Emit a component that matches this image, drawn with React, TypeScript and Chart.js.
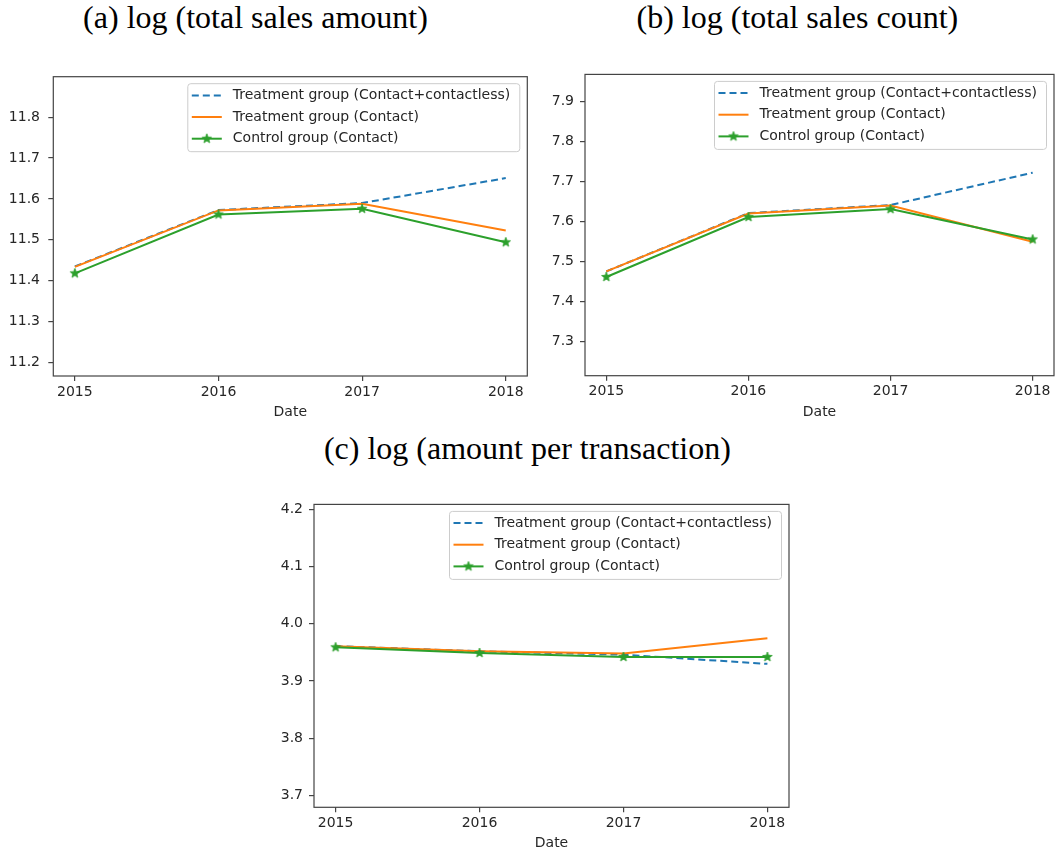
import React, { useEffect, useRef } from "react";
import { Chart, registerables } from "chart.js";

Chart.register(...registerables);

// ---------- data ----------
const years = [2015, 2016, 2017, 2018];
const seriesLabels = [
  "Treatment group (Contact+contactless)",
  "Treatment group (Contact)",
  "Control group (Contact)",
];

const amountTreatAll = [11.435, 11.573, 11.59, 11.651];
const amountTreatContact = [11.434, 11.572, 11.588, 11.523];
const amountControl = [11.418, 11.562, 11.576, 11.494];
const amountTicks = [11.2, 11.3, 11.4, 11.5, 11.6, 11.7, 11.8];

const countTreatAll = [7.475, 7.621, 7.641, 7.722];
const countTreatContact = [7.475, 7.62, 7.64, 7.549];
const countControl = [7.461, 7.611, 7.631, 7.555];
const countTicks = [7.3, 7.4, 7.5, 7.6, 7.7, 7.8, 7.9];

const perTxTreatAll = [3.961, 3.952, 3.946, 3.93];
const perTxTreatContact = [3.961, 3.952, 3.948, 3.975];
const perTxControl = [3.959, 3.949, 3.942, 3.942];
const perTxTicks = [3.7, 3.8, 3.9, 4.0, 4.1, 4.2];

const titles = [
  "(a) log (total sales amount)",
  "(b) log (total sales count)",
  "(c) log (amount per transaction)",
];

// ---------- styles ----------
const BLUE = "#1f77b4";
const ORANGE = "#ff7f0e";
const GREEN = "#2ca02c";
const TEXT = "#262626";
const FRAME = "#444444";
const SANS = "'DejaVu Sans', sans-serif";

function makeStar(color: string, r: number) {
  const c = document.createElement("canvas");
  const s = Math.ceil(r * 2 + 2);
  c.width = s;
  c.height = s;
  const g = c.getContext("2d")!;
  g.translate(s / 2, s / 2);
  g.beginPath();
  for (let i = 0; i < 10; i++) {
    const rad = i % 2 === 0 ? r : r * 0.42;
    const a = -Math.PI / 2 + (i * Math.PI) / 5;
    g.lineTo(rad * Math.cos(a), rad * Math.sin(a));
  }
  g.closePath();
  g.fillStyle = color;
  g.fill();
  g.strokeStyle = color;
  g.lineWidth = 0.8;
  g.stroke();
  return c;
}

const frameLegendPlugin = {
  id: "frameLegend",
  afterDraw(chart: any) {
    const { ctx, chartArea } = chart;
    const { left, top, right, bottom } = chartArea;
    ctx.save();
    ctx.strokeStyle = FRAME;
    ctx.lineWidth = 1.2;
    ctx.strokeRect(left, top, right - left, bottom - top);

    // legend box
    const w = 332;
    const h = 68;
    const bx = right - 7.5 - w;
    const by = top + 7;
    const r = 3;
    ctx.beginPath();
    ctx.moveTo(bx + r, by);
    ctx.lineTo(bx + w - r, by);
    ctx.arcTo(bx + w, by, bx + w, by + r, r);
    ctx.lineTo(bx + w, by + h - r);
    ctx.arcTo(bx + w, by + h, bx + w - r, by + h, r);
    ctx.lineTo(bx + r, by + h);
    ctx.arcTo(bx, by + h, bx, by + h - r, r);
    ctx.lineTo(bx, by + r);
    ctx.arcTo(bx, by, bx + r, by, r);
    ctx.closePath();
    ctx.fillStyle = "rgba(255,255,255,0.8)";
    ctx.fill();
    ctx.strokeStyle = "#cccccc";
    ctx.lineWidth = 1;
    ctx.stroke();

    const rows = [11.7, 33.3, 55];
    chart.data.datasets.forEach((ds: any, i: number) => {
      const cy = by + rows[i];
      ctx.beginPath();
      ctx.setLineDash(ds.borderDash || []);
      ctx.strokeStyle = ds.borderColor;
      ctx.lineWidth = ds.borderWidth;
      ctx.moveTo(bx + 4, cy);
      ctx.lineTo(bx + 34, cy);
      ctx.stroke();
      ctx.setLineDash([]);
      if (ds.pointStyle && typeof ds.pointStyle !== "string") {
        const img = ds.pointStyle;
        ctx.drawImage(img, bx + 19 - img.width / 2, cy - img.height / 2);
      }
      ctx.fillStyle = TEXT;
      ctx.font = "14px " + SANS;
      ctx.textBaseline = "middle";
      ctx.textAlign = "left";
      ctx.fillText(ds.label, bx + 45, cy);
    });
    ctx.restore();
  },
};

type PanelProps = {
  left: number;
  top: number;
  width: number;
  height: number;
  padTop: number;
  padRight: number;
  yAxisW: number;
  xAxisH: number;
  yPad: number;
  datePadBottom: number;
  yMin: number;
  yMax: number;
  yTicks: number[];
  treatAll: number[];
  treatContact: number[];
  control: number[];
};

function Panel(p: PanelProps) {
  const ref = useRef<HTMLCanvasElement | null>(null);
  useEffect(() => {
    const star = makeStar(GREEN, 5);
    const toPts = (arr: number[]) => years.map((x, i) => ({ x, y: arr[i] }));
    const chart = new Chart(ref.current!, {
      type: "line",
      data: {
        datasets: [
          {
            label: seriesLabels[0],
            data: toPts(p.treatAll),
            borderColor: BLUE,
            borderDash: [7, 4],
            borderWidth: 2,
            pointRadius: 0,
            order: 3,
          },
          {
            label: seriesLabels[1],
            data: toPts(p.treatContact),
            borderColor: ORANGE,
            borderWidth: 2,
            pointRadius: 0,
            order: 2,
          },
          {
            label: seriesLabels[2],
            data: toPts(p.control),
            borderColor: GREEN,
            borderWidth: 2,
            pointStyle: star as any,
            pointRadius: 5,
            order: 1,
          },
        ] as any,
      },
      options: {
        animation: false,
        responsive: false,
        maintainAspectRatio: false,
        layout: { padding: { top: p.padTop, right: p.padRight, left: 0, bottom: 0 } },
        plugins: { legend: { display: false }, tooltip: { enabled: false } },
        scales: {
          x: {
            type: "linear",
            min: 2014.85,
            max: 2018.15,
            afterBuildTicks: (s: any) => {
              s.ticks = years.map((v) => ({ value: v }));
            },
            afterFit: (s: any) => {
              s.height = p.xAxisH;
            },
            grid: { drawOnChartArea: false, drawTicks: true, tickLength: 5, color: FRAME, lineWidth: 1.2 },
            border: { display: false },
            ticks: {
              callback: (v: any) => String(v),
              font: { family: SANS, size: 14 },
              color: TEXT,
              padding: 2.5,
              maxRotation: 0,
              autoSkip: false,
            },
            title: {
              display: true,
              text: "Date",
              font: { family: SANS, size: 14 },
              color: TEXT,
              padding: { top: 0, bottom: p.datePadBottom },
            },
          },
          y: {
            type: "linear",
            min: p.yMin,
            max: p.yMax,
            afterBuildTicks: (s: any) => {
              s.ticks = p.yTicks.map((v) => ({ value: v }));
            },
            afterFit: (s: any) => {
              s.width = p.yAxisW;
            },
            grid: { drawOnChartArea: false, drawTicks: true, tickLength: 5, color: FRAME, lineWidth: 1.2 },
            border: { display: false },
            ticks: {
              callback: (v: any) => Number(v).toFixed(1),
              font: { family: SANS, size: 14 },
              color: TEXT,
              padding: p.yPad,
              autoSkip: false,
            },
          },
        },
      } as any,
      plugins: [frameLegendPlugin],
    });
    return () => chart.destroy();
  }, []);
  return (
    <canvas
      ref={ref}
      width={p.width}
      height={p.height}
      style={{ position: "absolute", left: p.left, top: p.top, width: p.width, height: p.height }}
    />
  );
}

function Title({ text, cx, baseline }: { text: string; cx: number; baseline: number }) {
  return (
    <div
      style={{
        position: "absolute",
        left: cx - 250,
        width: 500,
        top: baseline - 26.8,
        textAlign: "center",
        fontFamily: "'Liberation Serif', serif",
        fontSize: 32,
        lineHeight: "32px",
        color: "#000",
        whiteSpace: "nowrap",
      }}
    >
      {text}
    </div>
  );
}

export default function App() {
  return (
    <div
      style={{
        position: "fixed",
        left: 0,
        top: 0,
        width: 1061,
        height: 853,
        background: "#fff",
        overflow: "hidden",
      }}
    >
      <Title text={titles[0]} cx={255.5} baseline={27.3} />
      <Title text={titles[1]} cx={797.4} baseline={27.3} />
      <Title text={titles[2]} cx={527.4} baseline={459} />
      <Panel
        left={0}
        top={60}
        width={540}
        height={370}
        padTop={7.7}
        padRight={12.7}
        yAxisW={53.3}
        xAxisH={54}
        yPad={8.3}
        datePadBottom={9.6}
        yMin={11.167}
        yMax={11.899}
        yTicks={amountTicks}
        treatAll={amountTreatAll}
        treatContact={amountTreatContact}
        control={amountControl}
      />
      <Panel
        left={540}
        top={60}
        width={521}
        height={370}
        padTop={7.3}
        padRight={1.7}
        yAxisW={45}
        xAxisH={54.3}
        yPad={6}
        datePadBottom={9.6}
        yMin={7.214}
        yMax={7.968}
        yTicks={countTicks}
        treatAll={countTreatAll}
        treatContact={countTreatContact}
        control={countControl}
      />
      <Panel
        left={270}
        top={490}
        width={530}
        height={363}
        padTop={9.3}
        padRight={11}
        yAxisW={44}
        xAxisH={45.7}
        yPad={6}
        datePadBottom={1.6}
        yMin={3.679}
        yMax={4.209}
        yTicks={perTxTicks}
        treatAll={perTxTreatAll}
        treatContact={perTxTreatContact}
        control={perTxControl}
      />
    </div>
  );
}
